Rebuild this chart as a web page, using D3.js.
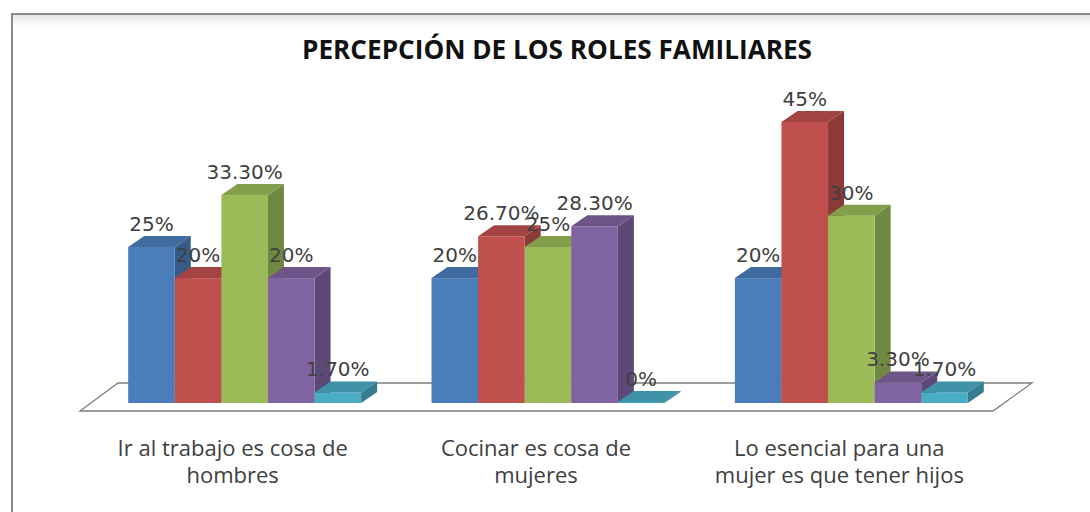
<!DOCTYPE html>
<html>
<head>
<meta charset="utf-8">
<script src="https://cdn.jsdelivr.net/npm/d3@7"></script>
<style>
  html, body { margin: 0; padding: 0; background: #ffffff; }
  svg { display: block; }
</style>
</head>
<body>
<svg id="chart" width="1090" height="512"></svg>
<script>
// ---- data ----
const title = "PERCEPCIÓN DE LOS ROLES FAMILIARES";
const categories = [
  "Ir al trabajo es cosa de\nhombres",
  "Cocinar es cosa de\nmujeres",
  "Lo esencial para una\nmujer es que tener hijos"
];
const seriesNames = ["Serie 1", "Serie 2", "Serie 3", "Serie 4", "Serie 5"];
const serie1 = [25, 20, 20];
const serie2 = [20, 26.7, 45];
const serie3 = [33.3, 25, 30];
const serie4 = [20, 28.3, 3.3];
const serie5 = [1.7, 0, 1.7];
const seriesValues = [serie1, serie2, serie3, serie4, serie5];
const seriesColors = ["#4a7ebb", "#c0504d", "#9bbb59", "#8064a2", "#4bacc6"];

// ---- layout ----
const svg = d3.select("#chart");
const W = 1090, H = 512;
const depthX = 16, depthY = 11;

svg.append("rect").attr("x", 0).attr("y", 0).attr("width", W).attr("height", H).attr("fill", "#ffffff");

// frame (extends past the right and bottom edges)
const defs = svg.append("defs");
const sh = defs.append("linearGradient").attr("id", "topShadow").attr("x1", 0).attr("y1", 0).attr("x2", 0).attr("y2", 1);
sh.append("stop").attr("offset", "0%").attr("stop-color", "#e6e6e6");
sh.append("stop").attr("offset", "100%").attr("stop-color", "#ffffff");
svg.append("rect").attr("x", 13).attr("y", 15).attr("width", W).attr("height", 12).attr("fill", "url(#topShadow)");
svg.append("rect").attr("x", 12).attr("y", 14).attr("width", W + 20).attr("height", H + 20)
  .attr("fill", "none").attr("stroke", "#8a8a8a").attr("stroke-width", 2);

// title
svg.append("text")
  .attr("x", 557).attr("y", 59)
  .attr("text-anchor", "middle")
  .attr("font-family", "'Open Sans', sans-serif")
  .attr("font-weight", "bold")
  .attr("font-size", 26)
  .attr("fill", "#111")
  .attr("textLength", 510)
  .attr("lengthAdjust", "spacingAndGlyphs")
  .text(title);

// scales
const x0 = d3.scaleBand().domain(categories).range([93, 1003]).paddingInner(0.232).paddingOuter(0.116);
const x1 = d3.scaleBand().domain(seriesNames).range([0, x0.bandwidth()]);
const y = d3.scaleLinear().domain([0, 45]).range([403, 122]);

// floor
const [r0, r1] = x0.range();
const floorFront = y(0) + 8, floorBack = y(0) - 20;
svg.append("path")
  .attr("d", `M${r0 - 13},${floorFront} L${r1 - 10},${floorFront} L${r1 + 29},${floorBack} L${r0 + 25},${floorBack} Z`)
  .attr("fill", "#ffffff").attr("stroke", "#7f7f7f").attr("stroke-width", 1.3);

// bars
const bars = [];
categories.forEach((c, ci) => {
  seriesNames.forEach((s, si) => {
    bars.push({ cat: c, ser: s, si, value: seriesValues[si][ci] });
  });
});

const fmt = v => (Number.isInteger(v) ? v : v.toFixed(2)) + "%";

const gBars = svg.append("g");
bars.forEach(d => {
  const x = x0(d.cat) + x1(d.ser);
  const w = x1.bandwidth();
  const yt = Math.min(y(d.value), y(0) - 1);
  const yb = y(0);
  const col = d3.color(seriesColors[d.si]);
  const g = gBars.append("g");
  // side
  g.append("path")
    .attr("d", `M${x + w},${yb} L${x + w + depthX},${yb - depthY} L${x + w + depthX},${yt - depthY} L${x + w},${yt} Z`)
    .attr("fill", col.darker(0.9));
  // front
  g.append("rect").attr("x", x).attr("y", yt).attr("width", w).attr("height", yb - yt)
    .attr("fill", col);
  // top
  g.append("path")
    .attr("d", `M${x},${yt} L${x + depthX},${yt - depthY} L${x + w + depthX},${yt - depthY} L${x + w},${yt} Z`)
    .attr("fill", col.darker(0.45));
});

// value labels
svg.append("g").selectAll("text").data(bars).join("text")
  .attr("x", d => x0(d.cat) + x1(d.ser) + x1.bandwidth() / 2)
  .attr("y", d => Math.min(y(d.value), y(0) - 1) - depthY - 5)
  .attr("text-anchor", "middle")
  .attr("font-family", "'DejaVu Sans', sans-serif")
  .attr("font-size", 20)
  .attr("fill", "#404040")
  .text(d => fmt(d.value));

// category labels
const catG = svg.append("g");
categories.forEach(c => {
  const t = catG.append("text")
    .attr("x", x0(c) + x0.bandwidth() / 2 - 12)
    .attr("y", 456)
    .attr("text-anchor", "middle")
    .attr("font-family", "'Open Sans', sans-serif")
    .attr("font-size", 22)
    .attr("fill", "#404040");
  c.split("\n").forEach((line, i) => {
    t.append("tspan").attr("x", x0(c) + x0.bandwidth() / 2 - 12).attr("dy", i === 0 ? 0 : 27).text(line);
  });
});
</script>
</body>
</html>
